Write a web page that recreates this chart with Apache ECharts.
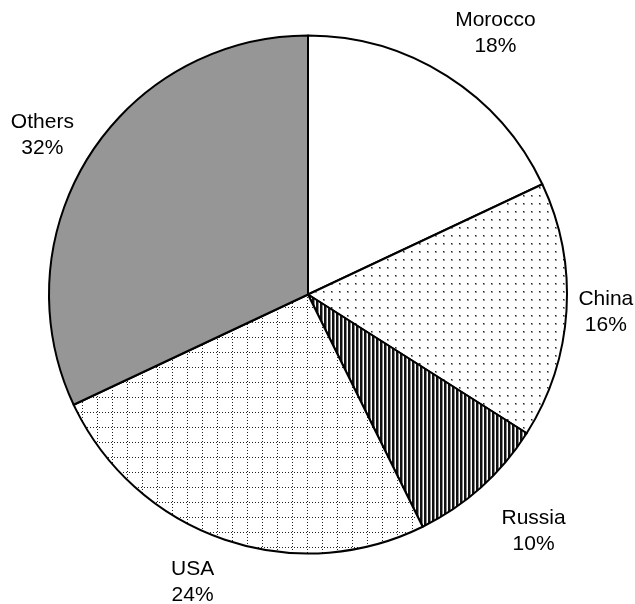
<!DOCTYPE html>
<html>
<head>
<meta charset="utf-8">
<script src="https://cdn.jsdelivr.net/npm/echarts@6/dist/echarts.min.js"></script>
<style>
    html, body { margin: 0; padding: 0; background: #fff; }
    #chart { width: 635px; height: 604px; }
</style>
</head>
<body>
<div id="chart"></div>
<script>
// chart data
const categories = ['Morocco', 'China', 'Russia', 'USA', 'Others'];
// slice sizes as drawn
const shares = [18, 16, 8.7, 25.3, 32];
// percentages printed on the labels
const labelPercents = [18, 16, 10, 24, 32];

// layout
const CX = 308;
const CY = 294.5;
const R = 259;
const GAP_X = 30;
const GAP_Y = 22;
// small hand nudges so labels sit where the original placed them
const labelNudge = [[11, -2], [-18, -2], [11, 8], [-13, -2], [5, 5]];

// fill patterns, drawn once on small canvases
function makeTile(w, h, draw) {
    const c = document.createElement('canvas');
    c.width = w;
    c.height = h;
    const ctx = c.getContext('2d');
    ctx.fillStyle = '#fff';
    ctx.fillRect(0, 0, w, h);
    draw(ctx);
    return { image: c, repeat: 'repeat' };
}

const dotted = makeTile(8, 8, ctx => {
    ctx.fillStyle = '#999';
    ctx.fillRect(3, 3, 2, 2);
    ctx.fillStyle = '#222';
    ctx.fillRect(3, 3, 1, 1);
});

const striped = makeTile(4, 4, ctx => {
    ctx.fillStyle = '#111';
    ctx.fillRect(0, 0, 2, 4);
    ctx.fillStyle = '#888';
    ctx.fillRect(2, 0, 1, 4);
});

const grid = makeTile(15, 15, ctx => {
    ctx.fillStyle = '#222';
    for (let i = 0; i < 15; i += 3) {
        ctx.fillRect(i, 7, 1, 1);
        ctx.fillRect(7, i, 1, 1);
    }
});

const fills = ['#ffffff', dotted, striped, grid, '#969696'];

const total = shares.reduce((a, b) => a + b, 0);

const chart = echarts.init(document.getElementById('chart'));

chart.setOption({
    animation: false,
    series: [
        {
            type: 'pie',
            center: [CX, CY],
            radius: R,
            startAngle: 90,
            clockwise: true,
            silent: true,
            itemStyle: {
                borderColor: '#000',
                borderWidth: 2
            },
            label: {
                show: true,
                position: 'outside',
                overflow: 'none',
                formatter: p => p.name + '\n' + labelPercents[p.dataIndex] + '%',
                fontFamily: 'Liberation Sans, Arial, sans-serif',
                fontSize: 21,
                lineHeight: 26,
                color: '#000'
            },
            labelLine: { show: false },
            // put each label just outside the rim, on the slice's mid angle
            labelLayout: params => {
                const i = params.dataIndex;
                let before = 0;
                for (let k = 0; k < i; k++) before += shares[k];
                const mid = (before + shares[i] / 2) / total * Math.PI * 2;
                const ux = Math.sin(mid);
                const uy = -Math.cos(mid);
                const w = params.labelRect.width;
                const h = params.labelRect.height;
                return {
                    x: CX + ux * (R + w / 2 + GAP_X) + labelNudge[i][0],
                    y: CY + uy * (R + h / 2 + GAP_Y) + labelNudge[i][1],
                    align: 'center',
                    verticalAlign: 'middle'
                };
            },
            data: categories.map((name, i) => ({
                name: name,
                value: shares[i],
                itemStyle: { color: fills[i] }
            }))
        }
    ]
});
</script>
</body>
</html>
